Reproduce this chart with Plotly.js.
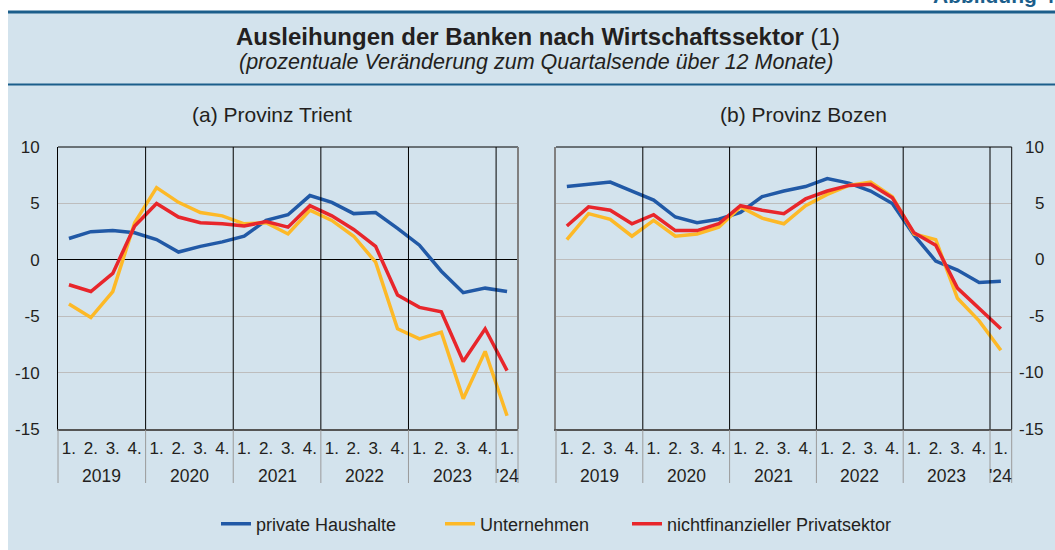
<!DOCTYPE html>
<html>
<head>
<meta charset="utf-8">
<script src="https://cdn.plot.ly/plotly-3.0.1.min.js"></script>
<style>
  html, body { margin: 0; padding: 0; background: #ffffff; }
  #chart { width: 1055px; height: 550px; }
</style>
</head>
<body>
<div id="chart"></div>
<script>
// ---------- data ----------
const periodYear = ['2019','2019','2019','2019','2020','2020','2020','2020','2021','2021','2021','2021',
                    '2022','2022','2022','2022','2023','2023','2023','2023',"'24"];
const periodQuarter = ['1.','2.','3.','4.','1.','2.','3.','4.','1.','2.','3.','4.',
                       '1.','2.','3.','4.','1.','2.','3.','4.','1.'];

const seriesNames = ['private Haushalte', 'Unternehmen', 'nichtfinanzieller Privatsektor'];

const trientHaushalte    = [1.9, 2.5, 2.6, 2.4, 1.8, 0.7, 1.2, 1.6, 2.1, 3.5, 4.0, 5.7, 5.1, 4.1, 4.2, 2.8, 1.3, -1.0, -2.9, -2.5, -2.8];
const trientUnternehmen  = [-3.9, -5.1, -2.8, 3.3, 6.4, 5.1, 4.2, 3.9, 3.2, 3.3, 2.3, 4.4, 3.5, 2.1, -0.2, -6.1, -7.0, -6.4, -12.3, -8.1, -13.8];
const trientPrivatsektor = [-2.2, -2.8, -1.2, 3.0, 5.0, 3.8, 3.3, 3.2, 3.0, 3.4, 2.9, 4.8, 3.9, 2.7, 1.2, -3.1, -4.2, -4.6, -9.0, -6.1, -9.8];

const bozenHaushalte     = [6.5, 6.7, 6.9, 6.1, 5.3, 3.8, 3.3, 3.6, 4.2, 5.6, 6.1, 6.5, 7.2, 6.8, 6.1, 5.0, 2.2, -0.1, -0.9, -2.0, -1.9];
const bozenUnternehmen   = [1.8, 4.1, 3.6, 2.1, 3.5, 2.1, 2.3, 2.9, 4.7, 3.7, 3.2, 4.8, 5.8, 6.6, 6.9, 5.6, 2.3, 1.8, -3.4, -5.4, -8.0];
const bozenPrivatsektor  = [3.0, 4.7, 4.4, 3.2, 4.0, 2.6, 2.6, 3.2, 4.8, 4.4, 4.1, 5.4, 6.1, 6.6, 6.7, 5.5, 2.4, 1.3, -2.5, -4.3, -6.1];

const yTickVals = [10, 5, 0, -5, -10, -15];
const yTickText = ['10', '5', '0', '-5', '-10', '-15'];

const panelTitles = ['(a) Provinz Trient', '(b) Provinz Bozen'];
const chartTitle = 'Ausleihungen der Banken nach Wirtschaftssektor';
const chartNote = '(1)';
const chartSubtitle = '(prozentuale Veränderung zum Quartalsende über 12 Monate)';
const figureLabel = 'Abbildung 4.';

// ---------- styling ----------
const W = 1055, H = 550;
const colors = ['#2159a6', '#fdb927', '#e8262b'];
const txt = '#231f20';
const bgBlue = '#d3e3ed';
const fontFam = 'Liberation Sans, Arial, sans-serif';
const px = v => v / W;
const py = v => 1 - v / H;

const N = periodQuarter.length;
const xIdx = periodQuarter.map((_, i) => i);   // category positions on the axis

const legendOrigins = [216, 440, 627];
const legendIds = ['legend', 'legend2', 'legend3'];

const traces = [];
const panels = [
  {xa: 'x', ya: 'y', data: [trientHaushalte, trientUnternehmen, trientPrivatsektor], legend: true},
  {xa: 'x2', ya: 'y2', data: [bozenHaushalte, bozenUnternehmen, bozenPrivatsektor], legend: false}
];
panels.forEach(p => {
  p.data.forEach((ys, k) => {
    traces.push({
      type: 'scatter', mode: 'lines',
      x: xIdx, y: ys,
      xaxis: p.xa, yaxis: p.ya,
      name: seriesNames[k],
      line: {color: colors[k], width: 3.5},
      showlegend: p.legend,
      legend: legendIds[k],
      hoverinfo: 'skip'
    });
  });
});

// year groups computed from the category arrays
const groups = [];
periodYear.forEach((y, i) => {
  if (!groups.length || groups[groups.length - 1].label !== y) groups.push({label: y, start: i, end: i});
  else groups[groups.length - 1].end = i;
});

const shapes = [];
shapes.push({type: 'rect', xref: 'paper', yref: 'paper', x0: px(8), x1: 1, y0: 0, y1: py(12), fillcolor: bgBlue, line: {width: 0}, layer: 'below'});
shapes.push({type: 'line', xref: 'paper', yref: 'paper', x0: px(8), x1: 1, y0: py(12), y1: py(12), line: {color: '#1b5e8b', width: 3}});
shapes.push({type: 'line', xref: 'paper', yref: 'paper', x0: px(8), x1: 1, y0: py(84.5), y1: py(84.5), line: {color: '#1b5e8b', width: 2}});

const annotations = [];

[['x', 'y', '#808080', 2], ['x2', 'y2', '#111111', 1]].forEach(([xa, ya, rcol, rw]) => {
  const xd = xa + ' domain', yd = ya + ' domain';
  groups.forEach((g, gi) => {
    const left = g.start / N, right = (g.end + 1) / N;
    if (gi > 0) {
      shapes.push({type: 'line', xref: xd, yref: yd, x0: left, x1: left, y0: 0, y1: 1, line: {color: '#000000', width: 1}});
    }
    // dividers in the label area
    shapes.push({type: 'line', xref: xd, yref: 'paper', x0: left, x1: left, y0: py(430), y1: py(483), line: {color: '#9a9a9a', width: 1}});
    if (gi === groups.length - 1) {
      shapes.push({type: 'line', xref: xd, yref: 'paper', x0: right, x1: right, y0: py(430), y1: py(483), line: {color: '#9a9a9a', width: 1}});
    }
    annotations.push({xref: xa, yref: 'paper', x: (g.start + g.end) / 2, y: py(476), xanchor: 'center', yanchor: 'middle',
      showarrow: false, text: g.label, font: {family: fontFam, size: 17.5, color: txt}});
  });
  shapes.push({type: 'line', xref: xd, yref: yd, x0: 0, x1: 1, y0: 1, y1: 1, line: {color: '#000000', width: 1}});
  shapes.push({type: 'line', xref: xd, yref: yd, x0: 1, x1: 1, y0: 0, y1: 1, line: {color: rcol, width: rw}});
});

annotations.push(
  {xref: 'paper', yref: 'paper', x: px(538), y: py(37), xanchor: 'center', yanchor: 'middle', showarrow: false,
   text: '<b>' + chartTitle + '</b> ' + chartNote, font: {family: fontFam, size: 24, color: txt}},
  {xref: 'paper', yref: 'paper', x: px(536), y: py(62), xanchor: 'center', yanchor: 'middle', showarrow: false,
   text: '<i>' + chartSubtitle + '</i>', font: {family: fontFam, size: 21.5, color: txt}},
  {xref: 'paper', yref: 'paper', x: px(1062), y: py(9), xanchor: 'right', yanchor: 'bottom', showarrow: false,
   text: '<b>' + figureLabel + '</b>', font: {family: fontFam, size: 21, color: '#1b5e8b'}},
  {xref: 'paper', yref: 'paper', x: px(272), y: py(114), xanchor: 'center', yanchor: 'middle', showarrow: false,
   text: panelTitles[0], font: {family: fontFam, size: 21, color: txt}},
  {xref: 'paper', yref: 'paper', x: px(803), y: py(114), xanchor: 'center', yanchor: 'middle', showarrow: false,
   text: panelTitles[1], font: {family: fontFam, size: 21, color: txt}}
);
yTickVals.forEach((v, i) => {
  annotations.push({xref: 'paper', yref: 'y2', x: px(1046), y: v, xanchor: 'right', yanchor: 'middle',
    showarrow: false, text: yTickText[i], font: {family: fontFam, size: 17, color: txt}});
});

const yDomain = [py(429.3), py(147)];
const xAxisBase = {
  type: 'linear', showgrid: false, zeroline: false,
  showline: true, linecolor: '#555555', linewidth: 2,
  tickvals: xIdx, ticktext: periodQuarter,
  ticks: '', tickangle: 0, ticklabelstandoff: 2, tickfont: {family: fontFam, size: 17, color: txt},
  range: [-0.5, N - 0.5], automargin: false, fixedrange: true
};
const yAxisBase = {
  range: [-15, 10], tickvals: yTickVals, ticktext: yTickText,
  gridcolor: '#bdbdbd', gridwidth: 1, ticks: '', automargin: false, fixedrange: true,
  tickfont: {family: fontFam, size: 17, color: txt}, domain: yDomain
};

const legendBase = {orientation: 'h', yanchor: 'middle', y: py(524), xanchor: 'left',
  bgcolor: 'rgba(0,0,0,0)', borderwidth: 0, font: {family: fontFam, size: 18, color: txt}};

const layout = {
  width: W, height: H,
  margin: {l: 0, r: 0, t: 0, b: 0},
  paper_bgcolor: '#ffffff', plot_bgcolor: '#ffffff',
  font: {family: fontFam, color: txt},
  xaxis: Object.assign({}, xAxisBase, {domain: [px(58), px(518)], anchor: 'y'}),
  xaxis2: Object.assign({}, xAxisBase, {domain: [px(556), px(1011.7)], anchor: 'y2'}),
  yaxis: Object.assign({}, yAxisBase, {anchor: 'x', showline: true, linecolor: '#000000', linewidth: 1,
    zeroline: true, zerolinecolor: '#000000', zerolinewidth: 1, ticklabelstandoff: 14}),
  yaxis2: Object.assign({}, yAxisBase, {anchor: 'x2', showline: true, linecolor: '#808080', linewidth: 2,
    zeroline: false, showticklabels: false}),
  legend: Object.assign({}, legendBase, {x: px(legendOrigins[0])}),
  legend2: Object.assign({}, legendBase, {x: px(legendOrigins[1])}),
  legend3: Object.assign({}, legendBase, {x: px(legendOrigins[2])}),
  shapes: shapes,
  annotations: annotations,
  showlegend: true
};

Plotly.newPlot('chart', traces, layout, {displayModeBar: false, staticPlot: true});
</script>
</body>
</html>
